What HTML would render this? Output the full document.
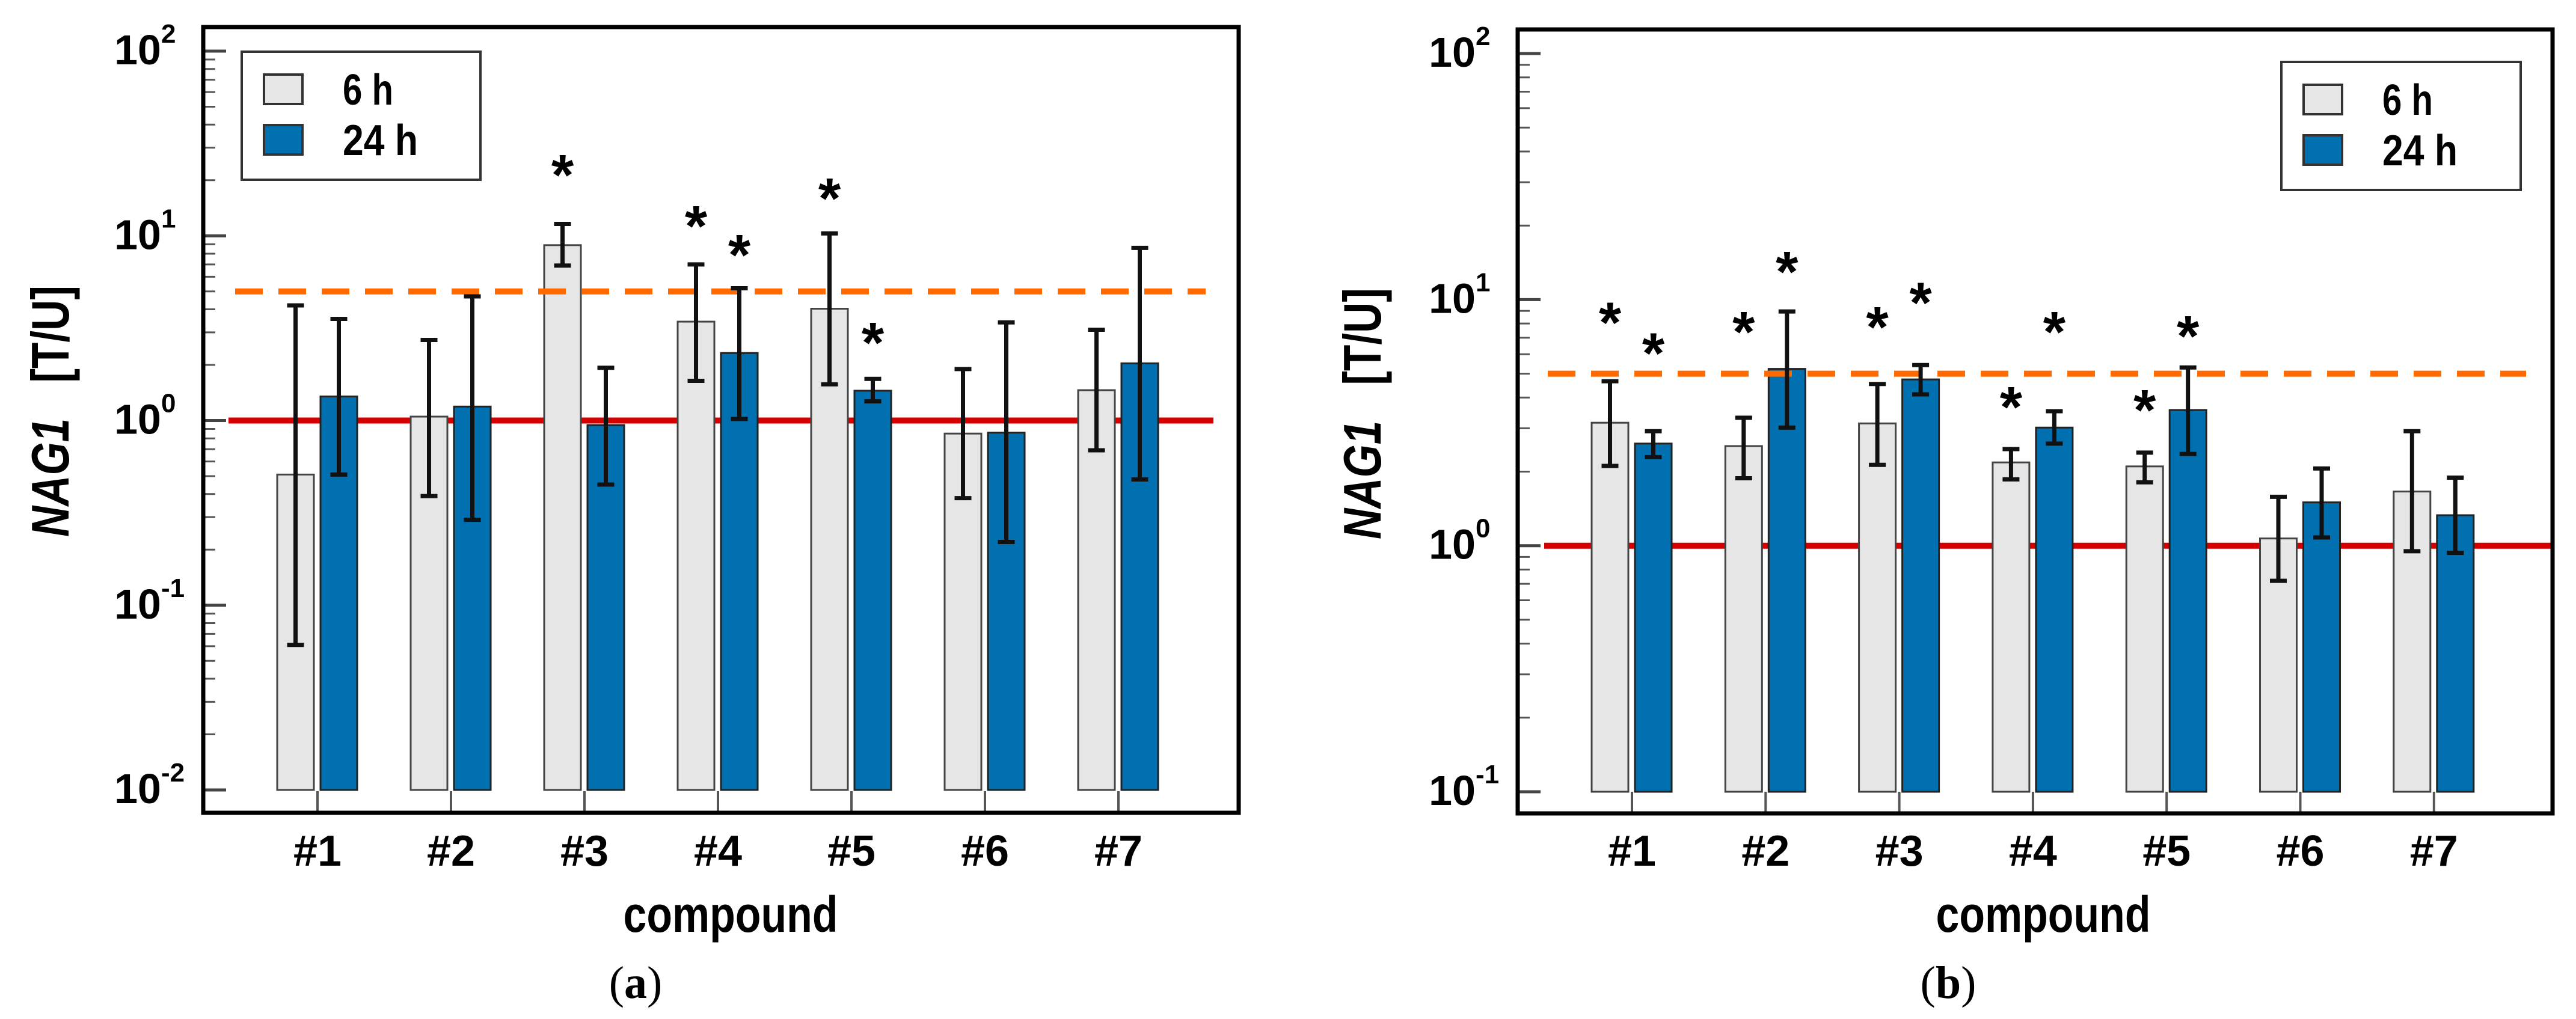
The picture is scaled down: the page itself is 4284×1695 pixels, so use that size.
<!DOCTYPE html>
<html><head><meta charset="utf-8"><style>
html,body{margin:0;padding:0;background:#fff;}
svg{display:block;}
.s{font-family:"Liberation Sans",Arial,sans-serif;font-weight:bold;}
</style></head><body>
<svg id="fig" width="4284" height="1695" viewBox="0 0 4284 1695" xmlns="http://www.w3.org/2000/svg"></svg>
<script>
// ---- data ----
const categories = ["#1","#2","#3","#4","#5","#6","#7"];
const seriesNames = ["6 h","24 h"];
// panel (a)
const a6 = [0.51,1.05,8.9,3.43,4.03,0.85,1.46];
const a6hi = [4.2,2.73,11.6,7.0,10.3,1.9,3.1];
const a6lo = [0.061,0.39,6.9,1.64,1.57,0.38,0.69];
const a24 = [1.35,1.19,0.945,2.32,1.45,0.86,2.04];
const a24hi = [3.55,4.7,1.93,5.2,1.68,3.4,8.6];
const a24lo = [0.51,0.29,0.45,1.02,1.27,0.22,0.48];
const aStar6 = [null,null,22.5,11.9,16.8,null,null];
const aStar24 = [null,null,null,8.3,2.78,null,null];
const aTicks = [-2,-1,0,1,2];
// panel (b)
const b6 = [3.16,2.54,3.14,2.18,2.1,1.07,1.66];
const b6hi = [4.66,3.31,4.54,2.47,2.39,1.58,2.92];
const b6lo = [2.11,1.88,2.13,1.86,1.81,0.72,0.95];
const b24 = [2.6,5.23,4.74,3.02,3.56,1.5,1.33];
const b24hi = [2.92,8.95,5.42,3.52,5.3,2.06,1.89];
const b24lo = [2.29,3.02,4.12,2.6,2.36,1.08,0.935];
const bStar6 = [8.4,7.7,8.05,3.81,3.7,null,null];
const bStar24 = [6.3,13.5,10.1,7.7,7.4,null,null];
const bTicks = [-1,0,1,2];
const refLines = [1,5];

const NS="http://www.w3.org/2000/svg";
const svg=document.getElementById('fig');
function mk(tag,attrs,parent){const e=document.createElementNS(NS,tag);for(const k in attrs)e.setAttribute(k,attrs[k]);(parent||svg).appendChild(e);return e;}

function panel(p){
  const g=mk('g',{});
  
  
  const y=v=>p.y0-(Math.log10(v)-p.minExp)*p.dec;
  const x=i=>p.cx0+i*p.step;
  for(let e=p.minExp;e<p.maxExp;e++){
    for(let m=2;m<=9;m++){
      const t=mk('line',{x1:p.fx,x2:p.fx+20,y1:y(m*Math.pow(10,e)),y2:y(m*Math.pow(10,e)),stroke:'#555','stroke-width':3},g);
      
      
    }
  }
  p.ticks.forEach(e=>{
    const yy=y(Math.pow(10,e));
    const t=mk('line',{x1:p.fx,x2:p.fx+38,y1:yy,y2:yy,stroke:'#444','stroke-width':5},g);
    
    
    const tx=mk('text',{class:'s',x:p.fx-70,y:yy+22,'font-size':70,'text-anchor':'end',fill:'#000'},g);
    
    
    tx.textContent='10';
    const sup=mk('tspan',{x:p.fx-70,dy:-36,'font-size':44,'text-anchor':'start'},tx);
    sup.textContent=String(e);
  });
  const red=mk('line',{x1:p.redX1,x2:p.redX2,y1:y(refLines[0]),y2:y(refLines[0]),stroke:'#d40000','stroke-width':10},g);
  
  
  const series=[{v:p.s6,hi:p.s6hi,lo:p.s6lo,st:p.st6,fill:'#e6e6e6',stroke:'#444',off:-67,name:'6h'},
                {v:p.s24,hi:p.s24hi,lo:p.s24lo,st:p.st24,fill:'#0070b0',stroke:'#222',off:5,name:'24h'}];
  const base=y(Math.pow(10,p.minExp));
  categories.forEach((c,i)=>{
    series.forEach(s=>{
      const bx=x(i)+s.off, top=y(s.v[i]);
      const r=mk('rect',{x:bx,y:top,width:61,height:base-top,fill:s.fill,stroke:s.stroke,'stroke-width':3},g);
      
      
    });
  });
  const org=mk('line',{x1:p.orX1,x2:p.orX2,y1:y(refLines[1]),y2:y(refLines[1]),stroke:'#ff6a00','stroke-width':10,'stroke-dasharray':'46 26'},g);
  
  
  categories.forEach((c,i)=>{
    series.forEach(s=>{
      const cx=x(i)+s.off+30.5;
      const eb=mk('path',{d:`M${cx-14},${y(s.hi[i])}H${cx+14}M${cx},${y(s.hi[i])}V${y(s.lo[i])}M${cx-14},${y(s.lo[i])}H${cx+14}`,stroke:'#111','stroke-width':7,fill:'none'},g);
      
      
      if(s.st[i]!=null){
        const a=mk('text',{class:'s',x:cx,y:y(s.st[i])+40,'font-size':96,'text-anchor':'middle',fill:'#000'},g);
        
        
        a.textContent='*';
      }
    });
    const xt=mk('line',{x1:x(i),x2:x(i),y1:p.fb,y2:p.fb-36,stroke:'#555','stroke-width':4},g);
    
    
    const xl=mk('text',{class:'s',x:x(i),y:1440,'font-size':72,'text-anchor':'middle',textLength:80,lengthAdjust:'spacingAndGlyphs'},g);
    
    
    xl.textContent=c;
  });
  const fr=mk('rect',{x:p.fx,y:p.ft,width:p.fr-p.fx,height:p.fb-p.ft,fill:'none',stroke:'#000','stroke-width':7},g);
  
  
  const lg=mk('g',{},g);
  
  
  mk('rect',{x:p.lx,y:p.ly,width:p.lw,height:213,fill:'#fff',stroke:'#333','stroke-width':4},lg);
  [['#e6e6e6',0],['#0070b0',1]].forEach(([f,k])=>{
    const sw=mk('rect',{x:p.lx+37,y:p.ly+38+k*84,width:64,height:49,fill:f,stroke:'#333','stroke-width':4},lg);
    
    
    const lt=mk('text',{class:'s',x:p.lx+168,y:p.ly+88+k*84,'font-size':72,textLength:k?125:84,lengthAdjust:'spacingAndGlyphs'},lg);
    
    
    lt.textContent=seriesNames[k];
  });
  const yt=mk('text',{class:'s',transform:`translate(${p.ytx},${p.yty}) rotate(-90)`,'font-size':88,'text-anchor':'middle',textLength:418,lengthAdjust:'spacingAndGlyphs'},g);
  
  
  const t1=mk('tspan',{'font-style':'italic'},yt);t1.textContent='NAG1';
  const t2=mk('tspan',{},yt);t2.textContent='\u00a0\u00a0\u00a0[T/U]';
  const xtl=mk('text',{class:'s',x:p.xtx,y:1550,'font-size':84,'text-anchor':'middle',textLength:357,lengthAdjust:'spacingAndGlyphs'},g);
  
  
  xtl.textContent='compound';
  const pl=mk('text',{x:p.plx,y:1660,'font-size':76,'text-anchor':'middle',style:'font-family:"Liberation Serif",serif;font-weight:normal;'},g);
  
  
  const o=mk('tspan',{},pl);o.textContent='(';
  const b=mk('tspan',{style:'font-weight:bold;'},pl);b.textContent=p.id;
  const c2=mk('tspan',{},pl);c2.textContent=')';
}

panel({id:'a',s6:a6,s6hi:a6hi,s6lo:a6lo,s24:a24,s24hi:a24hi,s24lo:a24lo,st6:aStar6,st24:aStar24,ticks:aTicks,
  minExp:-2,maxExp:2,y0:1314,dec:307.25,fx:338,fr:2060,ft:45,fb:1352,cx0:528,step:222,
  redX1:380,redX2:2018,orX1:391,orX2:2005,lx:402,ly:86,lw:397,ytx:114,yty:684,xtx:1215,plx:1057});
panel({id:'b',s6:b6,s6hi:b6hi,s6lo:b6lo,s24:b24,s24hi:b24hi,s24lo:b24lo,st6:bStar6,st24:bStar24,ticks:bTicks,
  minExp:-1,maxExp:2,y0:1317,dec:409.3,fx:2524,fr:4245,ft:49,fb:1353,cx0:2714,step:222.3,
  redX1:2568,redX2:4245,orX1:2574,orX2:4201,lx:3794,ly:103,lw:398,ytx:2296,yty:688,xtx:3398,plx:3240});
</script>
</body></html>
